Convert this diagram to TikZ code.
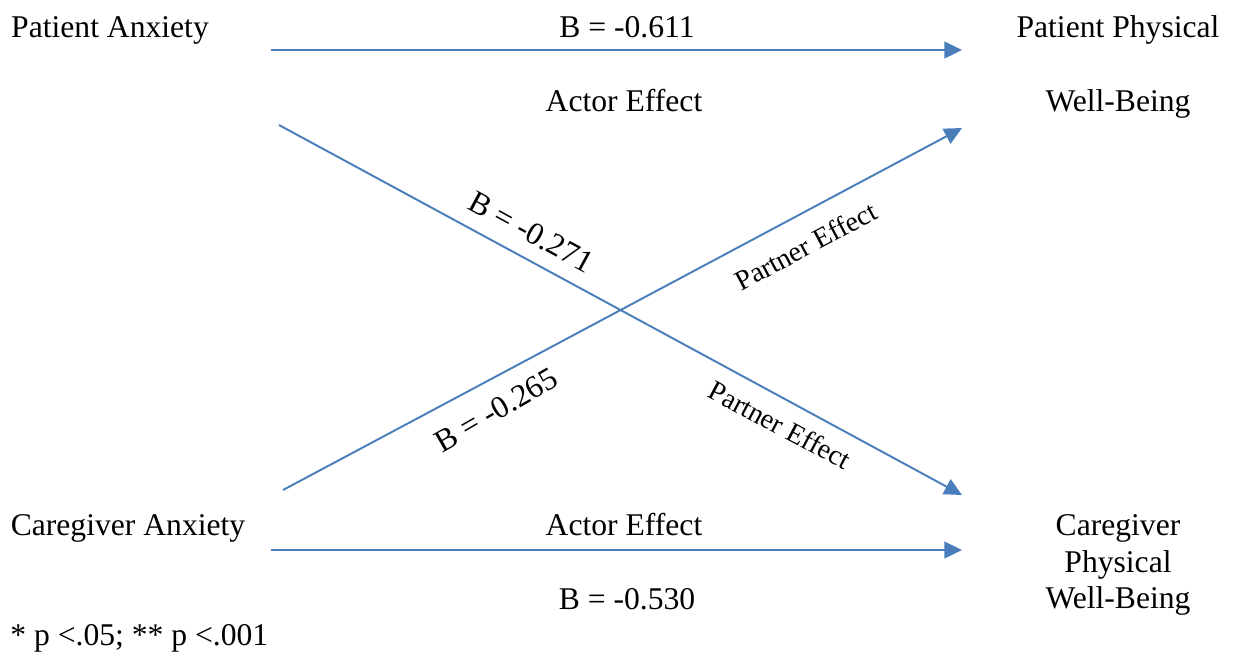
\documentclass[tikz,border=0pt]{standalone}
\usepackage{fontspec}
\setmainfont{Liberation Serif}
\usetikzlibrary{arrows.meta}
\definecolor{linkBlue}{RGB}{74,126,187}
\tikzset{
  link/.style={draw=linkBlue, line width=1.1pt,
               -{Triangle[length=10pt, width=9.5pt]}},
  lbl/.style={font=\fontsize{18}{21}\selectfont, inner sep=0pt},
  multilbl/.style={lbl, align=center},
}

\begin{document}
\begin{tikzpicture}[x=0.02cm,y=-0.02cm]
\useasboundingbox (0,0) rectangle (1235,654);
% variables
\node[lbl] (patAnx) at (110,30) {Patient Anxiety};
\node[lbl] (cgAnx)  at (128,528) {Caregiver Anxiety};
\node[multilbl] (patWB) at (1118,67) {Patient Physical\\[21pt]Well-Being};
\node[multilbl] (cgWB)  at (1118,565) {Caregiver\\Physical\\Well-Being};
% arrow ends
\coordinate (a1) at (271,50);  \coordinate (b1) at (962,50);
\coordinate (a2) at (271,550); \coordinate (b2) at (962,550);
\coordinate (a3) at (279,125); \coordinate (b3) at (962,495);
\coordinate (a4) at (283,490); \coordinate (b4) at (962,128);
% arrows
\draw[link] (a1) -- (b1);
\draw[link] (a2) -- (b2);
\draw[link] (a3) -- (b3);
\draw[link] (a4) -- (b4);
% actor labels
\node[lbl] (coefA) at (627,27)  {B = -0.611};
\node[lbl] (actA)  at (624,101) {Actor Effect};
\node[lbl] (actB)  at (624,525) {Actor Effect};
\node[lbl] (coefB) at (627,599) {B = -0.530};
% partner labels
\node[lbl, rotate=-28.5] (coefC) at (531,232) {B = -0.271};
\node[lbl, rotate=28, font=\fontsize{16}{19}\selectfont] (partC) at (806,246) {Partner Effect};
\node[lbl, rotate=30] (coefD) at (496,410) {B = -0.265};
\node[lbl, rotate=-28, font=\fontsize{16}{19}\selectfont] (partD) at (780,425) {Partner Effect};
% note
\node[lbl, anchor=west] (note) at (10,638) {* p <.05; ** p <.001};
\end{tikzpicture}
\end{document}
